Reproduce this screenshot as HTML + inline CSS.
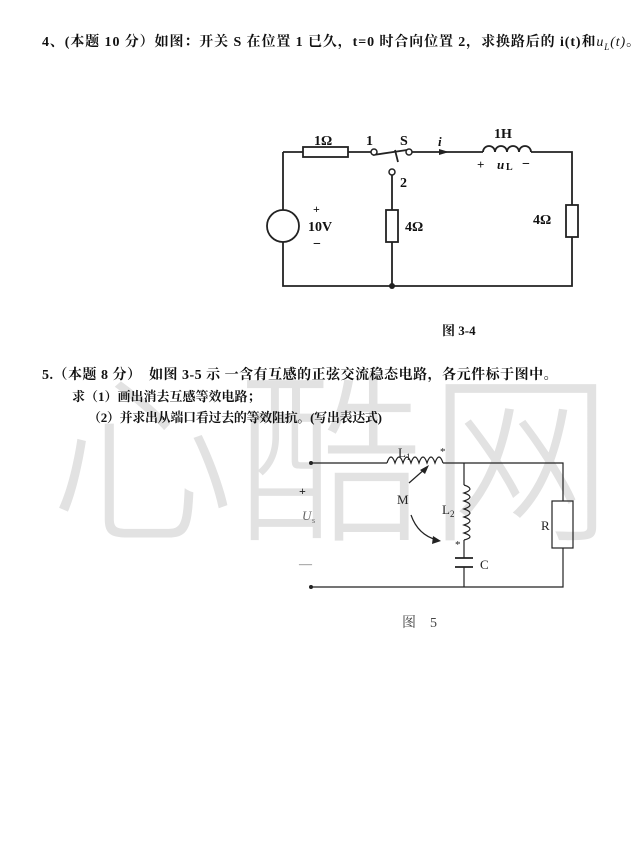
<!DOCTYPE html>
<html><head><meta charset="utf-8"><style>
body{margin:0;width:643px;height:856px;background:#fff;position:relative;overflow:hidden;font-family:"Liberation Serif","Noto Serif CJK SC",serif;}
.t{position:absolute;white-space:nowrap;font-weight:bold;font-size:14px;color:#111;font-family:"Liberation Serif","Noto Serif CJK SC",serif;}
.wm{position:absolute;font-family:"Noto Sans CJK SC",sans-serif;font-weight:300;color:#e2e2e2;font-size:185px;line-height:1;}
svg{position:absolute;left:0;top:0}
</style></head><body>
<div class="wm" style="left:50px;top:355px;">心</div>
<div class="wm" style="left:238px;top:355px;">酷</div>
<div class="wm" style="left:428px;top:355px;">网</div>
<div class="t" style="left:42px;top:31px;letter-spacing:0.9px;">4、(本题 10 分）如图：开关 S 在位置 1 已久，t=0 时合向位置 2，求换路后的 i(t)和<i style="font-weight:normal">u<sub style="font-size:9px">L</sub>(t)</i>。</div>
<div class="t" style="left:442px;top:320px;font-size:13px;">图 3-4</div>
<div class="t" style="left:42px;top:364px;letter-spacing:0.5px;">5.（本题 8 分）　如图 3-5 示 一含有互感的正弦交流稳态电路，各元件标于图中。</div>
<div class="t" style="left:72px;top:386px;font-size:13px;">求（1）画出消去互感等效电路；</div>
<div class="t" style="left:88px;top:407px;font-size:13px;letter-spacing:-0.3px;">（2）并求出从端口看过去的等效阻抗。(写出表达式)</div>
<div class="t" style="left:402px;top:612px;font-weight:normal;color:#444;">图　5</div>
<svg width="643" height="856" viewBox="0 0 643 856" font-family="Liberation Serif,serif">
<g stroke="#222" stroke-width="1.8" fill="none">
<path d="M283 152H303M348 152H371M412 152H483M531 152H572V205M572 237V286H283V242M283 210V152"/>
<rect x="303" y="147" width="45" height="10"/>
<circle cx="283" cy="226" r="16"/>
<path d="M392 175V210M392 242V286"/>
<rect x="386" y="210" width="12" height="32"/>
<rect x="566" y="205" width="12" height="32"/>
<path d="M483 152a6 6 0 0 1 12 0a6 6 0 0 1 12 0a6 6 0 0 1 12 0a6 6 0 0 1 12 0"/>
<path d="M373 155L407 150M395 150L398 162"/>
</g>
<g fill="#fff" stroke="#222" stroke-width="1.5"><circle cx="374" cy="152" r="3"/><circle cx="409" cy="152" r="3"/><circle cx="392" cy="172" r="3"/></g>
<circle cx="392" cy="286" r="3" fill="#222"/>
<path d="M439 149L449 152L439 155Z" fill="#222"/>
<g fill="#111" font-weight="bold" font-size="14">
<text x="314" y="145">1Ω</text><text x="366" y="145">1</text><text x="400" y="145">S</text>
<text x="438" y="146" font-style="italic" font-size="13">i</text><text x="494" y="138">1H</text>
<text x="477" y="169" font-size="13">+  </text><text x="497" y="169" font-style="italic" font-size="13">u</text><text x="506" y="170" font-size="10">L</text><text x="522" y="168">−</text>
<text x="400" y="187">2</text><text x="313" y="213" font-size="12">+</text><text x="308" y="231">10V</text><text x="313" y="248">−</text>
<text x="405" y="231">4Ω</text><text x="533" y="224">4Ω</text>
</g>
<g stroke="#222" stroke-width="1.2" fill="none">
<path d="M311 463H387M443 463H563V501M563 548V587H311M464 463V485M464 540V558M464 567V587"/>
<path d="M387 463q4-12 8 0q4-12 8 0q4-12 8 0q4-12 8 0q4-12 8 0q4-12 8 0q4-12 8 0"/>
<path d="M464 485q12 4 0 8q12 4 0 8q12 4 0 8q12 4 0 8q12 4 0 8q12 4 0 8q12 4 0 7"/>
<rect x="552" y="501" width="21" height="47"/>
<path d="M455 558H473M455 567H473" stroke-width="1.8"/>
<path d="M409 483L426 468"/><path d="M411 515Q418 535 437 540"/>
</g>
<path d="M429 465L420 470L425 474Z" fill="#222"/><path d="M441 541L433 536L432 544Z" fill="#222"/>
<circle cx="311" cy="463" r="2" fill="#222"/><circle cx="311" cy="587" r="2" fill="#222"/>
<g fill="#222" font-size="13">
<text x="398" y="457">L</text><text x="406" y="460" font-size="9">1</text><text x="440" y="455" font-size="11">*</text>
<text x="397" y="504">M</text><text x="442" y="514">L</text><text x="450" y="517" font-size="9">2</text>
<text x="455" y="548" font-size="11">*</text><text x="480" y="569">C</text><text x="541" y="530">R</text>
<text x="299" y="495" font-weight="bold" font-size="12">+</text>
<text x="302" y="520" font-style="italic" fill="#666">U</text><text x="312" y="523" font-size="8" fill="#666">s</text>
<text x="299" y="568" fill="#666">—</text>
</g>
</svg>
</body></html>
